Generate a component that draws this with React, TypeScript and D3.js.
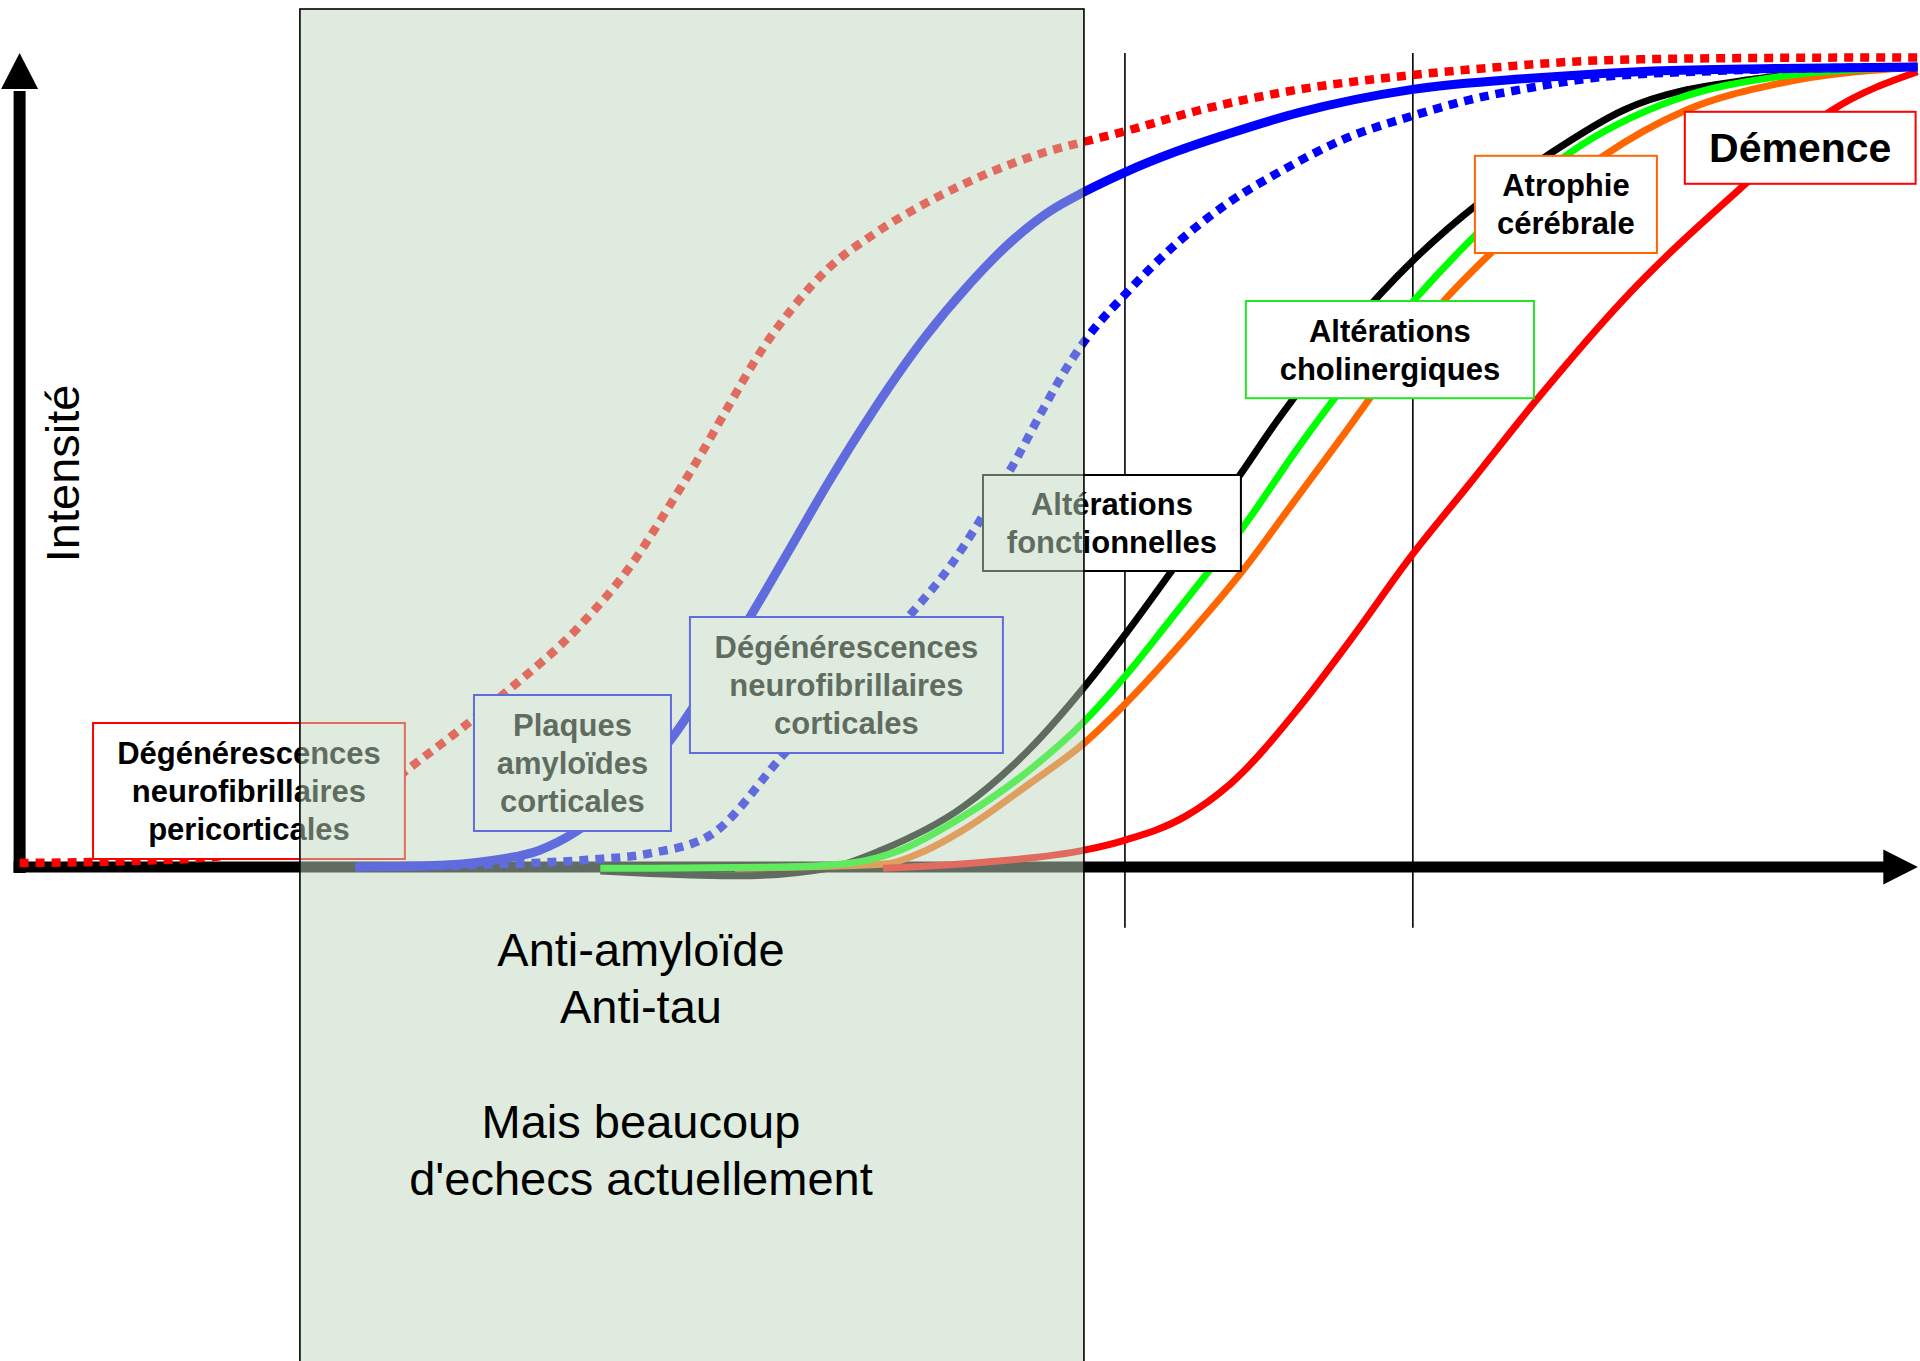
import React from "react";
import * as d3 from "d3";

const W = 1920;
const H = 1361;

// disease time course (x: time 0..100, y: intensity 0..100)
const pericorticalNft: [number, number][] = [
  [0, 0.5], [6.7, 0.8], [10, 1.2], [13.2, 2.5], [15.7, 4.7], [18.3, 8.1], [20.5, 12.3],
  [23, 16.8], [25.7, 22], [29.5, 30.1], [32.3, 38], [34.2, 45], [36, 52], [37.4, 57.8],
  [38.8, 63.5], [40.7, 69.8], [42.6, 74.8], [45, 79.1], [48, 83.3], [51.1, 86.8],
  [54.1, 89.4], [56, 90.6], [58.3, 92], [62, 94.5], [66.7, 96.9], [73.4, 99], [78, 100],
  [83, 100.8], [90, 101.1], [100, 101.2],
];
const amyloidPlaques: [number, number][] = [
  [17.7, 0], [21.5, 0.15], [24.8, 0.8], [27.4, 2.1], [29.3, 4.4], [31.9, 9.6], [34.3, 15.9],
  [36.4, 23.3], [38.5, 31.3], [40.5, 39.4], [42.6, 48], [45, 57.1], [47.6, 65.9], [50.1, 73],
  [52.4, 78.5], [54.3, 82], [56.1, 84.4], [58.3, 86.9], [60.9, 89.4], [63.5, 91.5],
  [67.4, 94.3], [73.4, 97.2], [79.6, 98.6], [86.1, 99.5], [92.5, 99.8], [100, 100],
];
const corticalNft: [number, number][] = [
  [17.7, 0], [24.8, 0.3], [29.9, 0.9], [33.2, 1.7], [36.4, 4], [40.3, 14.2], [43.7, 23],
  [47.1, 32], [49, 37.5], [50.6, 43.3], [52.5, 50.9], [53.9, 57.1], [55.3, 62.9], [56.1, 65.7],
  [58.3, 71.7], [60.9, 77.8], [63.5, 82.7], [66.7, 87.3], [69.9, 91.1], [73.4, 93.9],
  [76.4, 95.9], [79.6, 97.4], [82.8, 98.6], [89.3, 99.5], [100, 100],
];
const functionalChanges: [number, number][] = [
  [30.6, -0.5], [33.2, -0.8], [37.9, -1.1], [42.6, -0.15], [45.4, 2.1], [49.7, 7.5],
  [53.2, 14.7], [56.1, 22.5], [58.3, 29.2], [60.7, 37], [64.3, 49], [66.3, 55.9], [69.9, 66.8],
  [73.5, 76], [77, 83.2], [80.4, 88.8], [84.5, 94.6], [91.4, 98.5], [100, 100],
];
const cholinergicChanges: [number, number][] = [
  [30.6, -0.15], [33.2, -0.15], [40.3, 0], [43.8, 0.5], [46.4, 2.1], [49.7, 6.3], [53.2, 12.1],
  [56.1, 18.2], [58.3, 24], [60.5, 30.5], [62.6, 36.8], [64.5, 42.6], [67.3, 52.2], [73.5, 70.9],
  [76.8, 79.2], [81.7, 89.3], [87.2, 95.9], [92.7, 98.8], [100, 100],
];
const brainAtrophy: [number, number][] = [
  [37.7, -0.15], [41, 0], [43.5, 0.15], [45.7, 0.4], [47.5, 1.8], [49.7, 4.6], [53.2, 10.4],
  [56.1, 15.5], [58.3, 20.5], [61.4, 28.5], [64.5, 37.2], [67, 45.2], [69.5, 53.2], [75.1, 70.9],
  [77.5, 76.7], [83.4, 88.8], [87.8, 94.6], [92.8, 98], [100, 100],
];
const dementia: [number, number][] = [
  [45.5, -0.15], [50.8, 0.6], [56.1, 2.1], [58.3, 3.4], [61.4, 6.3], [63.8, 10.4], [67.4, 19.9],
  [70.1, 28.3], [73.4, 39.1], [76.4, 47.9], [79.9, 58.3], [84.5, 70.9], [90.8, 85.1],
  [95.5, 94.6], [100, 99.4],
];

// label boxes: text lines
const boxLines: string[][] = [
  ["Dégénérescences", "neurofibrillaires", "pericorticales"],
  ["Plaques", "amyloïdes", "corticales"],
  ["Dégénérescences", "neurofibrillaires", "corticales"],
  ["Altérations", "fonctionnelles"],
  ["Altérations", "cholinergiques"],
  ["Atrophie", "cérébrale"],
  ["Démence"],
];
// box extents in data units [x0, x1, yTop, yBottom]
const boxExtents: [number, number, number, number][] = [
  [3.87, 20.3, 18, 1],
  [23.94, 34.32, 21.5, 4.5],
  [35.32, 51.81, 31.25, 14.25],
  [50.76, 64.35, 49, 37],
  [64.61, 79.79, 70.75, 58.6],
  [76.68, 86.27, 88.9, 76.75],
  [87.74, 99.9, 94.4, 85.4],
];
const treatmentWindow: [number, number] = [14.77, 56.08];
const stageMarkers = [58.24, 73.41];
const treatmentText = ["Anti-amyloïde", "Anti-tau", "", "Mais beaucoup", "d'echecs actuellement"];
const yLabel = "Intensité";

const FONT = "'Liberation Sans', Arial, Helvetica, sans-serif";

export default function App() {
  const x = d3.scaleLinear().domain([0, 100]).range([19.6, 1917.5]);
  const y = d3.scaleLinear().domain([0, 100]).range([867, 67]);
  const line = d3
    .line<[number, number]>()
    .x((d) => x(d[0]))
    .y((d) => y(d[1]))
    .curve(d3.curveMonotoneX);

  const series = [
    { data: functionalChanges, color: "#000000", width: 7, dash: null },
    { data: brainAtrophy, color: "#ff6600", width: 7, dash: null },
    { data: cholinergicChanges, color: "#00ff00", width: 7, dash: null },
    { data: dementia, color: "#ff0000", width: 7, dash: null },
    { data: corticalNft, color: "#0000ff", width: 8.5, dash: "9 7" },
    { data: amyloidPlaques, color: "#0000ff", width: 9, dash: null },
    { data: pericorticalNft, color: "#ff0000", width: 8.5, dash: "9 7" },
  ];

  const boxStyles = [
    { stroke: "#ff0000", size: 31 },
    { stroke: "#0000ff", size: 31 },
    { stroke: "#0000ff", size: 31 },
    { stroke: "#000000", size: 31 },
    { stroke: "#22e622", size: 31 },
    { stroke: "#ff6600", size: 31 },
    { stroke: "#ff0000", size: 41 },
  ];

  const x0 = x(0);
  const y0 = y(0);

  return (
    <svg
      width={W}
      height={H}
      style={{ position: "absolute", left: 0, top: 0, background: "#fff" }}
      fontFamily={FONT}
    >
      <rect width={W} height={H} fill="#fff" />

      {/* stage markers */}
      {stageMarkers.map((m, i) => (
        <line key={i} x1={x(m)} x2={x(m)} y1={y(101.75)} y2={y(-7.6)} stroke="#000" strokeWidth={1.6} />
      ))}

      {/* axes */}
      <line x1={x0} x2={x0} y1={y(97)} y2={y0 + 6} stroke="#000" strokeWidth={12} />
      <path d={`M${x0},${y(101.75)} L${x0 - 18.5},${y(97.25)} L${x0 + 18.5},${y(97.25)} Z`} fill="#000" />
      <line x1={x0 - 6} x2={x(98.4)} y1={y0} y2={y0} stroke="#000" strokeWidth={11} />
      <path d={`M${x(100.02)},${y0} L${x(98.2)},${y0 - 17.5} L${x(98.2)},${y0 + 17.5} Z`} fill="#000" />

      <text
        transform={`translate(79,${y(49.2)}) rotate(-90)`}
        textAnchor="middle"
        fontSize={47}
        fill="#000"
      >
        {yLabel}
      </text>

      {/* curves */}
      {series.map((s, i) => (
        <path
          key={i}
          d={line(s.data) || ""}
          fill="none"
          stroke={s.color}
          strokeWidth={s.width}
          strokeDasharray={s.dash || undefined}
          strokeLinejoin="round"
        />
      ))}

      {/* label boxes */}
      {boxLines.map((lines, i) => {
        const [bx0, bx1, byT, byB] = boxExtents[i];
        const st = boxStyles[i];
        const left = x(bx0);
        const right = x(bx1);
        const top = y(byT);
        const bottom = y(byB);
        const cx = (left + right) / 2;
        const cy = (top + bottom) / 2;
        const lh = 38;
        const off = st.size > 35 ? 14 : 11;
        return (
          <g key={i}>
            <rect x={left} y={top} width={right - left} height={bottom - top} fill="#fff" stroke={st.stroke} strokeWidth={2} />
            {lines.map((t, j) => (
              <text
                key={j}
                x={cx}
                y={cy + off + (j - (lines.length - 1) / 2) * lh}
                textAnchor="middle"
                fontSize={st.size}
                fontWeight="bold"
                fill="#000"
              >
                {t}
              </text>
            ))}
          </g>
        );
      })}

      {/* treatment window overlay */}
      <rect
        x={x(treatmentWindow[0])}
        y={y(107.25)}
        width={x(treatmentWindow[1]) - x(treatmentWindow[0])}
        height={H + 20 - y(107.25)}
        fill="rgb(192,216,190)"
        fillOpacity={0.5}
        stroke="#000"
        strokeWidth={1.6}
      />
      {treatmentText.map((t, i) =>
        t ? (
          <text key={i} x={x(32.74)} y={966 + i * 57.3} textAnchor="middle" fontSize={47} fill="#000">
            {t}
          </text>
        ) : null
      )}
    </svg>
  );
}
